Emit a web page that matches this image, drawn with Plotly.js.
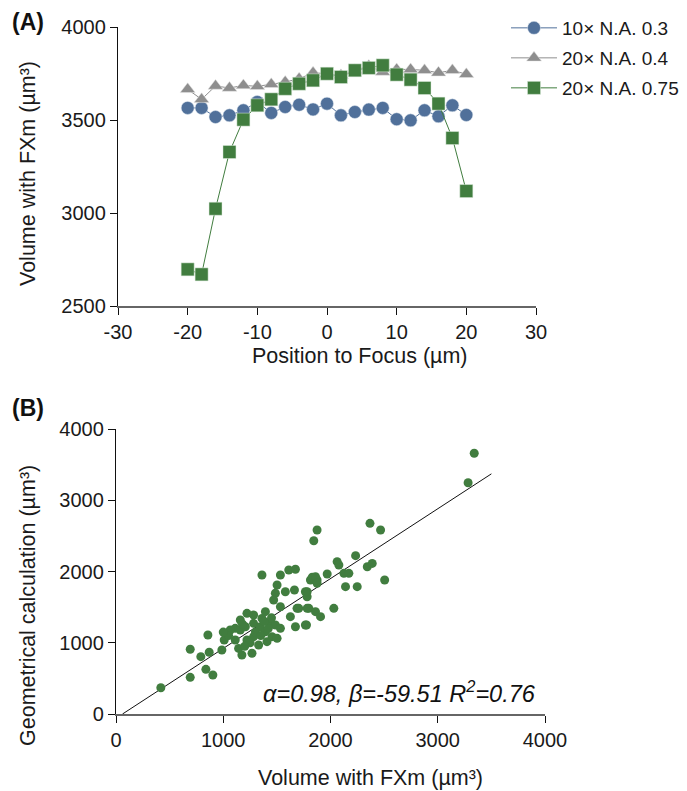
<!DOCTYPE html>
<html>
<head>
<meta charset="utf-8">
<script src="https://cdn.plot.ly/plotly-3.0.1.min.js"></script>
<style>html,body{margin:0;padding:0;background:#fff;}#chart{width:687px;height:791px;}</style>
</head>
<body>
<div id="chart"></div>
<script>
// Panel A data
const positions = [-20,-18,-16,-14,-12,-10,-8,-6,-4,-2,0,2,4,6,8,10,12,14,16,18,20];
const na03 = [3565,3565,3516,3525,3552,3597,3538,3570,3582,3557,3588,3525,3543,3556,3565,3504,3498,3552,3520,3579,3527];
const na04 = [3665,3611,3683,3672,3686,3681,3692,3704,3722,3754,3749,3740,3767,3790,3758,3772,3772,3767,3754,3767,3746];
const na075 = [2697,2670,3023,3328,3502,3579,3611,3668,3695,3713,3749,3731,3767,3780,3794,3744,3717,3672,3588,3403,3118];
const seriesNames = ["10\u00d7 N.A. 0.3","20\u00d7 N.A. 0.4","20\u00d7 N.A. 0.75"];
const xTicksA = [-30,-20,-10,0,10,20,30];
const xTickTextA = ["-30","-20","-10","0","10","20","30"];
const titlesA = {x:'Position to Focus (\u00b5m)', y:'Volume with FXm (\u00b5m\u00b3)'};

// Panel B data
const volFXm = [418,692,692,857,791,869,838,903,987,1009,1361,1844,1875,1533,1611,1673,1502,1486,1470,1579,1664,1533,1688,1798,1782,1813,1875,1782,1626,1673,1776,1860,1393,1361,1221,1283,1159,1112,1065,1159,1206,1283,1346,1439,1486,1533,1393,1455,1283,1221,1112,1408,1330,1143,1268,1174,1502,2368,2467,2234,2062,2078,2125,2171,2343,2389,2505,1969,2140,2249,1830,1860,1875,1766,2031,1704,1782,1907,1766,3340,3283,1050,1180,1300,1420,1250,1350,1000,1200,1450,1380];
const geoCalc = [369,515,908,1109,805,866,627,547,898,1039,1951,2432,2582,1951,2021,2031,1811,1694,1600,1716,1740,1506,1483,1483,1716,1881,1881,1646,1366,1225,1249,1436,1436,1342,1413,1389,1319,1202,1179,1179,1225,1272,1225,1295,1249,1202,1155,1085,1085,1039,1039,1015,968,921,852,828,1062,2676,2582,2222,2138,2091,1974,1974,2067,2114,1881,1965,1787,1787,1920,1927,1835,1716,1483,1483,1483,1366,1249,3659,3246,1100,1260,1150,1200,1000,1100,1150,950,1350,1300];
const alpha = 0.98, beta = -59.51, r2 = 0.76;
const fitX = [60.7, 3500];
const fitY = fitX.map(v => alpha*v + beta);
const titlesB = {x:'Volume with FXm (\u00b5m\u00b3)', y:'Geometrical calculation (\u00b5m\u00b3)'};

const blue = '#50709a', gray = '#8e8e8e', green = '#417d3f';
const fam = '"Liberation Sans", Arial, sans-serif';
const tickFont = {family:fam, size:20, color:'#1a1a1a'};
const titleFont = {family:fam, size:21.5, color:'#1a1a1a'};
const legFont = {family:fam, size:19, color:'#1a1a1a'};

const traces = [
  {x:positions, y:na03, name:seriesNames[0], type:'scatter', mode:'lines+markers', xaxis:'x', yaxis:'y', legend:'legend',
   line:{color:blue, width:1}, marker:{symbol:'circle', size:13, color:blue, line:{color:'#dfe6ef', width:0.5}}},
  {x:positions, y:na04, name:seriesNames[1], type:'scatter', mode:'lines+markers', xaxis:'x', yaxis:'y', legend:'legend2',
   line:{color:gray, width:1}, marker:{symbol:'triangle-up', size:13, color:gray, line:{color:'#e6e6e6', width:0.5}}},
  {x:positions, y:na075, name:seriesNames[2], type:'scatter', mode:'lines+markers', xaxis:'x', yaxis:'y', legend:'legend3',
   line:{color:green, width:1}, marker:{symbol:'square', size:13, color:green, line:{color:'#dcebdc', width:0.5}}},
  {x:fitX, y:fitY, type:'scatter', mode:'lines', xaxis:'x2', yaxis:'y2', showlegend:false,
   line:{color:'#111', width:1}},
  {x:volFXm, y:geoCalc, type:'scatter', mode:'markers', xaxis:'x2', yaxis:'y2', showlegend:false,
   marker:{symbol:'circle', size:9, color:green}}
];

const axBase = {showgrid:false, zeroline:false, showline:true, linecolor:'#111', linewidth:1.2,
  ticks:'outside', ticklen:7, tickwidth:1, tickcolor:'#111', tickfont:tickFont};

function leg(yPix){
  return {x:506/687, y:1-yPix/791, xanchor:'left', yanchor:'middle', font:legFont,
    bgcolor:'rgba(0,0,0,0)', borderwidth:0, itemwidth:46};
}
function txt(text, xPix, yPix, opts){
  return Object.assign({text:text, xref:'paper', yref:'paper', x:xPix/687, y:1-yPix/791,
    xanchor:'center', yanchor:'middle', showarrow:false, font:titleFont}, opts||{});
}

const layout = {
  width:687, height:791, margin:{l:0,r:0,t:0,b:0},
  paper_bgcolor:'#fff', plot_bgcolor:'#fff', font:tickFont,
  showlegend:true,
  legend:leg(28), legend2:leg(58), legend3:leg(88),
  xaxis:Object.assign({}, axBase, {domain:[118/687, 536/687], range:[-30,30], tickmode:'array',
    tickvals:xTicksA, ticktext:xTickTextA, anchor:'y', linecolor:'#666', linewidth:1.5}),
  yaxis:Object.assign({}, axBase, {domain:[1-306/791, 1-27/791], range:[2500,4000], dtick:500, anchor:'x'}),
  xaxis2:Object.assign({}, axBase, {domain:[116/687, 545/687], range:[0,4000], dtick:1000, anchor:'y2',
    linecolor:'#666', linewidth:1.5}),
  yaxis2:Object.assign({}, axBase, {domain:[1-714/791, 1-429/791], range:[0,4000], dtick:1000, anchor:'x2'}),
  annotations:[
    txt('<b>(A)</b>', 10, 22, {xanchor:'left', font:{family:fam, size:23, color:'#111'}}),
    txt('<b>(B)</b>', 10, 408, {xanchor:'left', font:{family:fam, size:23, color:'#111'}}),
    txt(titlesA.x, 360, 356),
    txt(titlesA.y, 28, 174, {textangle:-90}),
    txt(titlesB.x, 370, 778),
    txt(titlesB.y, 28, 606, {textangle:-90}),
    txt('<i>\u03b1=' + alpha.toFixed(2) + ', \u03b2=' + beta.toFixed(2) + ' R<sup>2</sup>=' + r2.toFixed(2) + '</i>',
      538, 692, {xanchor:'right', font:{family:fam, size:23.5, color:'#111'}})
  ]
};

Plotly.newPlot('chart', traces, layout, {displayModeBar:false, staticPlot:true});
</script>
</body>
</html>
